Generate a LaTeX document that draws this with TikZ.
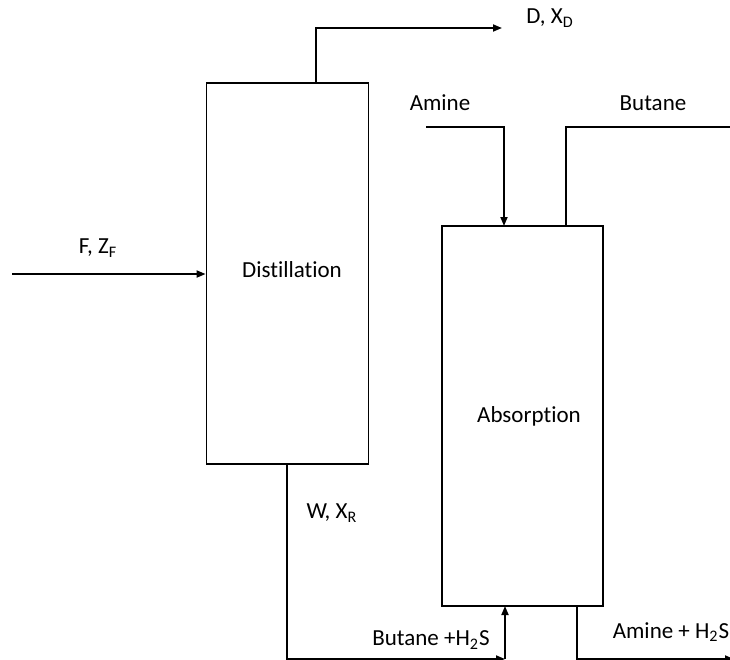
\documentclass[tikz,border=0pt]{standalone}
\usepackage{fontspec}
\setmainfont[RawFeature={-liga;-dlig}]{Carlito}
\usetikzlibrary{arrows.meta}
\tikzset{
  unit/.style={draw, line width=0.9pt, inner sep=0pt},
  flow/.style={line width=0.9pt, -{Triangle[length=4.5pt,width=3.5pt]}},
  pipe/.style={line width=0.9pt},
  lbl/.style={font=\fontsize{11.5pt}{13pt}\selectfont, inner sep=0pt}
}
\begin{document}
\begin{tikzpicture}[x=0.5pt,y=-0.5pt]
\useasboundingbox (0,0) rectangle (730,660);
% units
\node[unit, minimum width=81pt, minimum height=190.5pt] (dist) at (287.5,273.5) {};
\node[lbl] (distlbl) at (292,270) {Distillation};
\node[unit, minimum width=80.5pt, minimum height=190pt] (abs) at (522.5,416) {};
\node[lbl] (abslbl) at (529,416) {Absorption};
% coordinates
\coordinate (fin) at (12,274);
\coordinate (dtop) at (316,83);
\coordinate (dout) at (502,28);
\coordinate (amin) at (426,127);
\coordinate (atop) at (504,226);
\coordinate (btop) at (566,226);
\coordinate (bout) at (732,127);
\coordinate (dbot) at (287,464);
\coordinate (corner) at (505,659);
\coordinate (abot) at (505,606);
\coordinate (abot2) at (577,606);
\coordinate (aout) at (734,659);
% streams
\draw[flow] (fin) -- (dist.west |- fin);
\draw[flow] (dtop) |- (dout);
\draw[flow] (amin) -| (atop);
\draw[pipe] (btop) |- (bout);
\draw[flow] (dbot) |- (corner);
\draw[flow] (corner) -- (abot);
\draw[flow] (abot2) |- (aout);
% labels
\node[lbl] (f) at (98,248) {F, Z\textsubscript{F}};
\node[lbl] (d) at (550,18) {D, X\textsubscript{D}};
\node[lbl] (am) at (440,103) {Amine};
\node[lbl] (bu) at (653,103) {Butane};
\node[lbl] (w) at (332,513) {W, X\textsubscript{R}};
\node[lbl] (bh) at (431,640) {Butane +H\textsubscript{2}S};
\node[lbl] (ah) at (671,632) {Amine + H\textsubscript{2}S};
\end{tikzpicture}
\end{document}
